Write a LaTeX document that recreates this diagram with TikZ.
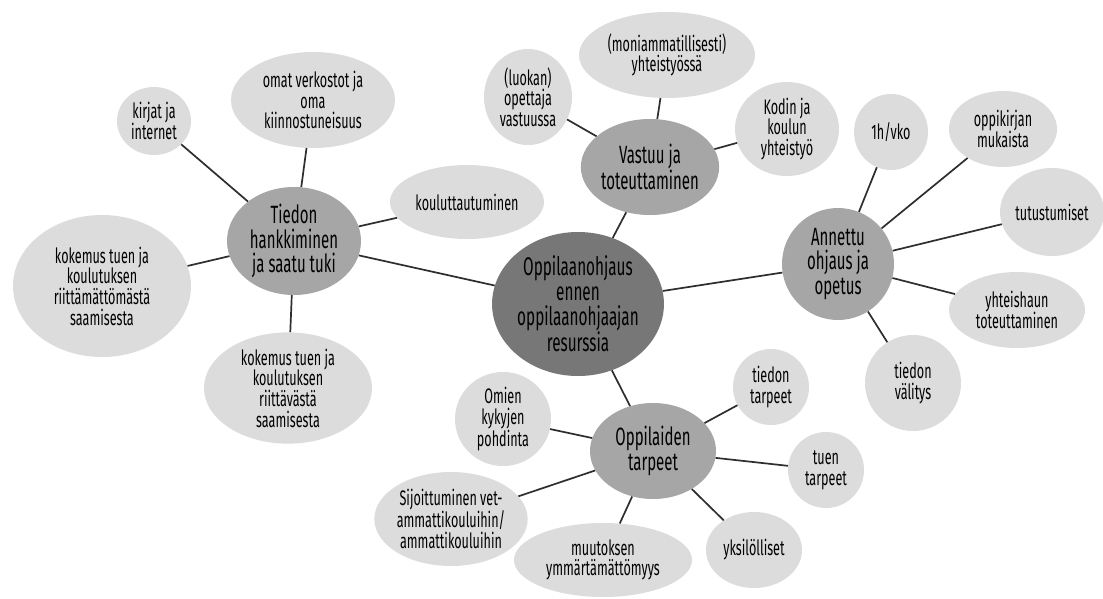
\documentclass[tikz,border=0pt]{standalone}
\usepackage{fontspec}
\setmainfont{Fira Sans}[FakeStretch=0.6]
\usetikzlibrary{shapes.geometric}
\definecolor{hubfill}{HTML}{777777}
\definecolor{subfill}{HTML}{A6A6A6}
\definecolor{leaffill}{HTML}{DCDCDC}
\definecolor{linkcol}{HTML}{2E2E2E}
\tikzset{
  bubble/.style={ellipse, inner sep=0pt, align=center, text=black},
  hub/.style={bubble, fill=hubfill, font=\fontsize{25.5}{25}\selectfont},
  topic/.style={bubble, fill=subfill, font=\fontsize{25}{24.5}\selectfont},
  leaf/.style={bubble, fill=leaffill, font=\fontsize{21}{20.7}\selectfont},
  link/.style={draw=linkcol, line width=1.7pt},
  % bubble size from its half axes
  axes/.style 2 args={minimum width={2*#1}, minimum height={2*#2}},
}
\begin{document}
\begin{tikzpicture}[x=1pt, y=-1pt]
\useasboundingbox[fill=white] (0,0) rectangle (1103,598);

% main and topic bubbles
\node[hub, axes={85}{72}] (c) at (578,304) {Oppilaanohjaus\\ennen\\oppilaanohjaajan\\resurssia};
\node[topic, axes={67}{54}] (t) at (294,241) {Tiedon\\hankkiminen\\ja saatu tuki};
\node[topic, axes={66}{48}] (v) at (650,167) {Vastuu ja\\toteuttaminen};
\node[topic, axes={56}{56}] (a) at (838,264) {Annettu\\ohjaus ja\\opetus};
\node[topic, axes={63}{48}] (o) at (653,451) {Oppilaiden\\tarpeet};

% leaves of "Tiedon hankkiminen"
\node[leaf, axes={37}{34}] (t1) at (154,121) {kirjat ja\\internet};
\node[leaf, axes={82}{48}] (t2) at (313,100) {omat verkostot ja\\oma\\kiinnostuneisuus};
\node[leaf, axes={77}{37}] (t3) at (467,202) {kouluttautuminen};
\node[leaf, axes={89}{71}] (t4) at (102,286) {kokemus tuen ja\\koulutuksen\\riittämättömästä\\saamisesta};
\node[leaf, axes={84}{53}] (t5) at (288,388) {kokemus tuen ja\\koulutuksen\\riittävästä\\saamisesta};

% leaves of "Vastuu ja toteuttaminen"
\node[leaf, axes={44}{48}] (v1) at (528,97) {(luokan)\\opettaja\\vastuussa};
\node[leaf, axes={88}{43}] (v2) at (667,55) {(moniammatillisesti)\\yhteistyössä};
\node[leaf, axes={52}{47}] (v3) at (787,129) {Kodin ja\\koulun\\yhteistyö};

% leaves of "Annettu ohjaus ja opetus"
\node[leaf, axes={37}{38}] (a1) at (891,132) {1h/vko};
\node[leaf, axes={54}{38}] (a2) at (1003,129) {oppikirjan\\mukaista};
\node[leaf, axes={52}{44}] (a3) at (1052,212) {tutustumiset};
\node[leaf, axes={68}{38}] (a4) at (1017,310) {yhteishaun\\toteuttaminen};
\node[leaf, axes={48}{48}] (a5) at (913,383) {tiedon\\välitys};

% leaves of "Oppilaiden tarpeet"
\node[leaf, axes={38}{38}] (o1) at (771,387) {tiedon\\tarpeet};
\node[leaf, axes={38}{38}] (o2) at (826,470) {tuen\\tarpeet};
\node[leaf, axes={48}{38}] (o3) at (754,550) {yksilölliset};
\node[leaf, axes={89}{37}] (o4) at (603,560) {muutoksen\\ymmärtämättömyys};
\node[leaf, axes={72}{47}] (o5) at (451,519) {Sijoittuminen vet-\\ammattikouluihin/\\ammattikouluihin};
\node[leaf, axes={48}{47}] (o6) at (503,419) {Omien\\kykyjen\\pohdinta};

% connectors
\foreach \a/\b in {c/t, c/v, c/a, c/o,
                   t/t1, t/t2, t/t3, t/t4, t/t5,
                   v/v1, v/v2, v/v3,
                   a/a1, a/a2, a/a3, a/a4, a/a5,
                   o/o1, o/o2, o/o3, o/o4, o/o5, o/o6}
  \draw[link] (\a) -- (\b);
\end{tikzpicture}
\end{document}
